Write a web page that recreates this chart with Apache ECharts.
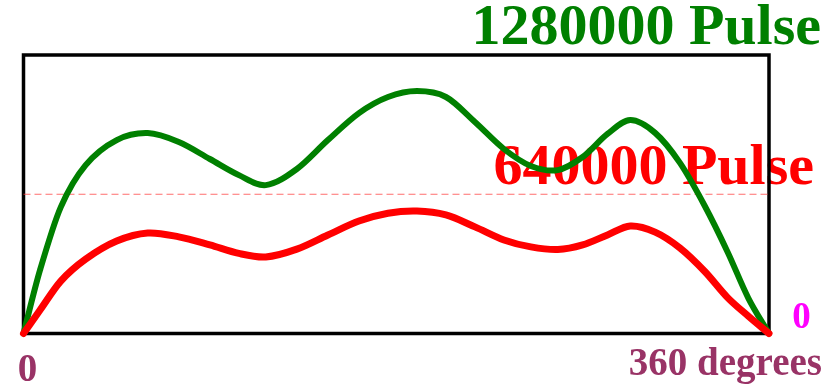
<!DOCTYPE html>
<html>
<head>
<meta charset="utf-8">
<script src="https://cdn.jsdelivr.net/npm/echarts@6/dist/echarts.min.js"></script>
<style>
  html, body { margin: 0; padding: 0; background: #fff; }
  #chart { width: 837px; height: 390px; }
</style>
</head>
<body>
<div id="chart"></div>
<script>
// Rotor angle in degrees; samples sit on each peak and valley of the curves
const angles = [0, 8, 18, 30, 45, 60, 75, 90, 104, 117, 132, 147, 162, 176, 190,
  204, 218, 232, 245, 258, 270, 282, 293, 305, 317, 329, 340, 350, 360];

// Pulse count at 1280000 pulses per revolution
const pulses1280k = [0, 292000, 581000, 774000, 889000, 921000, 880000, 802000, 728000,
  682000, 756000, 889000, 1013000, 1087000, 1114000, 1087000, 972000, 848000, 770000,
  751000, 811000, 917000, 981000, 922000, 784000, 586000, 375000, 163000, 0];

// Pulse count at 640000 pulses per revolution
const pulses640k = [0, 108000, 241000, 342000, 425000, 462000, 444000, 407000, 368000,
  352000, 388000, 453000, 517000, 553000, 563000, 545000, 490000, 430000, 398000,
  386000, 407000, 453000, 494000, 466000, 393000, 285000, 165000, 80000, 0];

const yMax = 1280000;
const refLevel = 640000;
const labelTop = '1280000 Pulse';
const labelRef = '640000 Pulse';
const labelZero = '0';
const labelStart = '0';
const labelEnd = '360 degrees';

const serif = '"Liberation Serif", "Times New Roman", serif';

// Cubic Hermite path through the samples, placed with the chart's own axes
function curvePath(api, xs, ys) {
  const pts = xs.map((x, i) => api.coord([x, ys[i]]));
  const n = pts.length;
  const slope = pts.map((p, i) => {
    if (i === 0) return (pts[1][1] - p[1]) / (pts[1][0] - p[0]);
    if (i === n - 1) return (p[1] - pts[n - 2][1]) / (p[0] - pts[n - 2][0]);
    return (pts[i + 1][1] - pts[i - 1][1]) / (pts[i + 1][0] - pts[i - 1][0]);
  });
  let d = 'M' + pts[0][0] + ' ' + pts[0][1];
  for (let i = 0; i < n - 1; i++) {
    const h = pts[i + 1][0] - pts[i][0];
    d += ' C' + (pts[i][0] + h / 3) + ' ' + (pts[i][1] + slope[i] * h / 3) +
         ' ' + (pts[i + 1][0] - h / 3) + ' ' + (pts[i + 1][1] - slope[i + 1] * h / 3) +
         ' ' + pts[i + 1][0] + ' ' + pts[i + 1][1];
  }
  return d;
}

function curveSeries(name, values, color, width, z) {
  return {
    name: name,
    type: 'custom',
    coordinateSystem: 'cartesian2d',
    data: [[0, 0]],
    z: z,
    silent: true,
    renderItem: (params, api) => ({
      type: 'path',
      shape: { pathData: curvePath(api, angles, values) },
      style: { fill: 'none', stroke: color, lineWidth: width, lineCap: 'round', lineJoin: 'round' }
    })
  };
}

const chart = echarts.init(document.getElementById('chart'), null, { renderer: 'canvas' });

chart.setOption({
  backgroundColor: '#ffffff',
  animation: false,
  grid: {
    left: 23.5, top: 55, right: 68, bottom: 56.5,
    show: true, borderColor: '#000', borderWidth: 3.5, backgroundColor: 'transparent',
    z: 1
  },
  xAxis: {
    type: 'value', min: 0, max: 360,
    axisLine: { show: false }, axisTick: { show: false },
    axisLabel: { show: false }, splitLine: { show: false }
  },
  yAxis: {
    type: 'value', min: 0, max: yMax,
    axisLine: { show: false }, axisTick: { show: false },
    axisLabel: { show: false }, splitLine: { show: false }
  },
  series: [
    {
      name: 'reference',
      type: 'custom',
      coordinateSystem: 'cartesian2d',
      data: [[0, refLevel]],
      z: 2,
      silent: true,
      renderItem: (params, api) => {
        const a = api.coord([0, refLevel]);
        const b = api.coord([360, refLevel]);
        return {
          type: 'line',
          shape: { x1: a[0], y1: a[1], x2: b[0], y2: b[1] },
          style: { stroke: 'rgba(255,60,60,0.75)', lineWidth: 1, lineDash: [7, 4] }
        };
      }
    },
    curveSeries(labelTop, pulses1280k, '#008000', 6, 3),
    curveSeries(labelRef, pulses640k, '#ff0000', 7, 4)
  ],
  graphic: {
    z: -1,
    elements: [
      {
        type: 'text', x: 821, y: 29.3, z: -1,
        style: { text: labelTop, fill: '#008000', font: 'bold 58px ' + serif,
          textAlign: 'right', textVerticalAlign: 'middle' }
      },
      {
        type: 'text', x: 814, y: 169.3, z: -1,
        style: { text: labelRef, fill: '#ff0000', font: 'bold 58px ' + serif,
          textAlign: 'right', textVerticalAlign: 'middle' }
      },
      {
        type: 'text', x: 801.5, y: 318.4, z: -1,
        style: { text: labelZero, fill: '#ff00ff', font: 'bold 37px ' + serif,
          textAlign: 'center', textVerticalAlign: 'middle' }
      },
      {
        type: 'text', x: 27.5, y: 370.7, z: -1,
        style: { text: labelStart, fill: '#993366', font: 'bold 39px ' + serif,
          textAlign: 'center', textVerticalAlign: 'middle' }
      },
      {
        type: 'text', x: 822, y: 364.7, z: -1,
        style: { text: labelEnd, fill: '#993366', font: 'bold 39px ' + serif,
          textAlign: 'right', textVerticalAlign: 'middle' }
      }
    ]
  }
});
</script>
</body>
</html>
